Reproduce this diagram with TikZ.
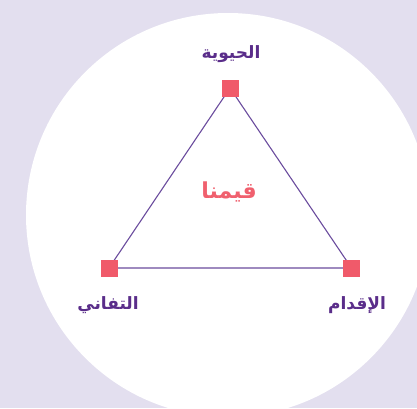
\documentclass[tikz,border=0pt]{standalone}
\usepackage{fontspec}
\TeXXeTstate=1
\newfontfamily\arabicfont[Script=Arabic]{DejaVu Sans}
\definecolor{bgc}{HTML}{E3DFEF}
\definecolor{linec}{HTML}{6B4C9E}
\definecolor{sqc}{HTML}{F05A6A}
\definecolor{txtc}{HTML}{5A2D8A}
\definecolor{ctrc}{HTML}{F0606E}
\tikzset{
  sq/.style={fill=sqc, minimum size=17pt, inner sep=0pt, draw=none},
  lbl/.style={text=txtc, font=\arabicfont\bfseries\fontsize{17}{20}\selectfont, inner sep=0pt},
  ctr/.style={text=ctrc, font=\arabicfont\bfseries\fontsize{22}{26}\selectfont, inner sep=0pt},
  edge/.style={draw=linec, line width=1.1pt}
}
\begin{document}
\begin{tikzpicture}[x=1pt,y=1pt]
\useasboundingbox (0,0) rectangle (417,408);
\fill[bgc] (0,0) rectangle (417,408);
\begin{scope}
\clip (0,0) rectangle (417,408);
\fill[white] (228,193) circle (202);
\end{scope}
\coordinate (t) at (230,320);
\coordinate (l) at (109,140);
\coordinate (r) at (351.5,140);
\draw[edge] (t) -- (l) -- (r) -- cycle;
\node[sq] (st) at (t) {};
\node[sq] (sl) at (l) {};
\node[sq] (sr) at (r) {};
\node[lbl] (lt) at (231,354) {\beginR الحيوية\endR};
\node[lbl] (ll) at (108,103) {\beginR التفاني\endR};
\node[lbl] (lr) at (357,103) {\beginR الإقدام\endR};
\node[ctr] (c) at (229,216) {\beginR قيمنا\endR};
\end{tikzpicture}
\end{document}
